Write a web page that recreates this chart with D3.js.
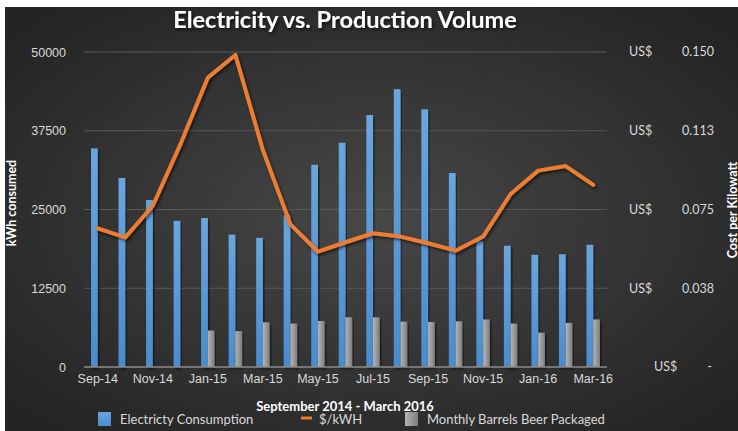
<!DOCTYPE html>
<html>
<head>
<meta charset="utf-8">
<script src="https://cdn.jsdelivr.net/npm/d3@7"></script>
<style>
    html, body { margin: 0; padding: 0; background: #ffffff; }
    svg { display: block; font-family: Lato, "Open Sans", sans-serif; }
</style>
</head>
<body>
<div id="chart"></div>
<script>
const months = ["Sep-14", "Oct-14", "Nov-14", "Dec-14", "Jan-15", "Feb-15", "Mar-15", "Apr-15",
    "May-15", "Jun-15", "Jul-15", "Aug-15", "Sep-15", "Oct-15", "Nov-15", "Dec-15",
    "Jan-16", "Feb-16", "Mar-16"];
const kwhConsumed = [34700, 30000, 26500, 23200, 23650, 21000, 20500, 24100, 32100, 35600,
    40000, 44100, 40900, 30800, 20000, 19250, 17800, 17900, 19400];
const barrelsPackaged = [0, 0, 0, 0, 5800, 5700, 7100, 6900, 7300, 7900,
    7900, 7200, 7150, 7250, 7550, 6900, 5450, 7000, 7550];
const costPerKwh = [0.0660, 0.0617, 0.0768, 0.1060, 0.1378, 0.1486, 0.1033, 0.0679, 0.0549, 0.0594,
    0.0637, 0.0621, 0.0589, 0.0554, 0.0621, 0.0824, 0.0935, 0.0957, 0.0867];
const leftTicks = [0, 12500, 25000, 37500, 50000];
const rightTicks = [0, 0.0375, 0.075, 0.1125, 0.15];
const rightTickLabels = ["-", "0.038", "0.075", "0.113", "0.150"];
const legendItems = [
    { key: "kwh", label: "Electricty Consumption" },
    { key: "cost", label: "$/kWH" },
    { key: "barrels", label: "Monthly Barrels Beer Packaged" }
];

const width = 738, height = 431;
const plot = { left: 84, right: 607, top: 52, bottom: 367 };

const svg = d3.select("#chart").append("svg")
    .attr("width", width)
    .attr("height", height);

const defs = svg.append("defs");

const bg = defs.append("radialGradient")
    .attr("id", "bg")
    .attr("cx", "50%").attr("cy", "50%").attr("r", "65%");
bg.append("stop").attr("offset", "0%").attr("stop-color", "#474747");
bg.append("stop").attr("offset", "100%").attr("stop-color", "#242424");

const blueGrad = defs.append("linearGradient")
    .attr("id", "blueGrad").attr("x1", 0).attr("y1", 0).attr("x2", 0).attr("y2", 1);
blueGrad.append("stop").attr("offset", "0%").attr("stop-color", "#6aa5de");
blueGrad.append("stop").attr("offset", "100%").attr("stop-color", "#4a8ccd");

const grayGrad = defs.append("linearGradient")
    .attr("id", "grayGrad").attr("x1", 0).attr("y1", 0).attr("x2", 1).attr("y2", 0);
grayGrad.append("stop").attr("offset", "0%").attr("stop-color", "#b5b5b5");
grayGrad.append("stop").attr("offset", "100%").attr("stop-color", "#7d7d7d");

const shadow = defs.append("filter").attr("id", "shadow")
    .attr("x", "-20%").attr("y", "-20%").attr("width", "140%").attr("height", "140%");
shadow.append("feDropShadow")
    .attr("dx", 1.5).attr("dy", 2).attr("stdDeviation", 1.5)
    .attr("flood-color", "#000").attr("flood-opacity", 0.6);

svg.append("rect")
    .attr("x", 5).attr("y", 7)
    .attr("width", width - 5).attr("height", height - 7)
    .attr("fill", "url(#bg)");

// scales
const x = d3.scaleBand()
    .domain(months)
    .range([plot.left, plot.right])
    .padding(0);

const x1 = d3.scaleBand()
    .domain(["kwh", "barrels"])
    .range([0, x.bandwidth()])
    .paddingInner(0)
    .paddingOuter(1.04);

const yLeft = d3.scaleLinear().domain([0, 50000]).range([plot.bottom, plot.top]);
const yRight = d3.scaleLinear().domain([0, 0.15]).range([plot.bottom, plot.top]);

// gridlines
svg.append("g")
    .selectAll("line")
    .data(leftTicks.slice(1))
    .enter()
    .append("line")
    .attr("x1", plot.left).attr("x2", plot.right)
    .attr("y1", d => yLeft(d)).attr("y2", d => yLeft(d))
    .style("stroke", "#595959")
    .style("stroke-width", "1px");

// bars
const groups = svg.append("g")
    .selectAll("g")
    .data(months)
    .enter()
    .append("g")
    .attr("transform", d => `translate(${x(d)},0)`);

groups.append("rect")
    .attr("x", x1("kwh"))
    .attr("width", x1.bandwidth())
    .attr("y", (d, i) => yLeft(kwhConsumed[i]))
    .attr("height", (d, i) => plot.bottom - yLeft(kwhConsumed[i]))
    .attr("fill", "url(#blueGrad)")
    .attr("filter", "url(#shadow)");

groups.filter((d, i) => barrelsPackaged[i] > 0)
    .append("rect")
    .attr("x", x1("barrels"))
    .attr("width", x1.bandwidth())
    .attr("y", d => yLeft(barrelsPackaged[months.indexOf(d)]))
    .attr("height", d => plot.bottom - yLeft(barrelsPackaged[months.indexOf(d)]))
    .attr("fill", "url(#grayGrad)")
    .attr("filter", "url(#shadow)");

// baseline
svg.append("line")
    .attr("x1", plot.left).attr("x2", plot.right)
    .attr("y1", plot.bottom).attr("y2", plot.bottom)
    .style("stroke", "#8c8c8c")
    .style("stroke-width", "1.5px");

// cost line
const line = d3.line()
    .x((d, i) => x(months[i]) + x.bandwidth() / 2)
    .y(d => yRight(d));

svg.append("path")
    .datum(costPerKwh)
    .attr("d", line)
    .style("fill", "none")
    .style("stroke", "#ed7d31")
    .style("stroke-width", "4px")
    .style("stroke-linejoin", "round")
    .style("stroke-linecap", "round")
    .attr("filter", "url(#shadow)");

// axes
const xAxis = svg.append("g")
    .attr("transform", `translate(0,${plot.bottom})`)
    .call(d3.axisBottom(x)
        .tickValues(months.filter((d, i) => i % 2 === 0))
        .tickSize(0)
        .tickPadding(7));
xAxis.select(".domain").remove();
xAxis.selectAll("text")
    .style("font-size", "12.5px")
    .style("fill", "#d9d9d9");

const yAxis = svg.append("g")
    .attr("transform", `translate(${plot.left},0)`)
    .call(d3.axisLeft(yLeft)
        .tickValues(leftTicks)
        .tickFormat(d3.format("d"))
        .tickSize(0)
        .tickPadding(18));
yAxis.select(".domain").remove();
yAxis.selectAll("text")
    .style("font-size", "12.5px")
    .style("fill", "#d9d9d9");

const rightAxis = svg.append("g")
    .selectAll("g")
    .data(rightTicks)
    .enter()
    .append("g")
    .attr("transform", d => `translate(0,${yRight(d)})`);

rightAxis.append("text")
    .attr("x", (d, i) => i === 0 ? 654 : 629)
    .attr("dy", "0.35em")
    .style("font-size", "12.5px")
    .style("fill", "#d9d9d9")
    .text("US$");

rightAxis.append("text")
    .attr("x", (d, i) => i === 0 ? 712 : 714)
    .attr("dy", "0.35em")
    .style("text-anchor", "end")
    .style("font-size", "12.5px")
    .style("fill", "#d9d9d9")
    .text((d, i) => rightTickLabels[i]);

// titles
svg.append("text")
    .attr("x", 345)
    .attr("y", 28)
    .style("text-anchor", "middle")
    .style("font-size", "23.5px")
    .style("font-weight", "bold")
    .style("fill", "#ffffff")
    .attr("filter", "url(#shadow)")
    .text("Electricity vs. Production Volume");

svg.append("text")
    .attr("transform", "translate(16,203) rotate(-90)")
    .style("text-anchor", "middle")
    .style("font-size", "12.5px")
    .style("font-weight", "bold")
    .style("fill", "#ffffff")
    .text("kWh consumed");

svg.append("text")
    .attr("transform", "translate(737,210) rotate(-90)")
    .style("text-anchor", "middle")
    .style("font-size", "12.5px")
    .style("font-weight", "bold")
    .style("fill", "#ffffff")
    .text("Cost per Kilowatt");

svg.append("text")
    .attr("x", 345)
    .attr("y", 411)
    .style("text-anchor", "middle")
    .style("font-size", "13px")
    .style("font-weight", "bold")
    .style("fill", "#ffffff")
    .text("September 2014 - March 2016");

// legend
const legendX = [98, 301, 405];
const legend = svg.append("g")
    .selectAll("g")
    .data(legendItems)
    .enter()
    .append("g")
    .attr("transform", (d, i) => `translate(${legendX[i]},419)`);

legend.filter(d => d.key !== "cost")
    .append("rect")
    .attr("x", 0).attr("y", -7)
    .attr("width", 13).attr("height", 14)
    .attr("fill", d => d.key === "kwh" ? "url(#blueGrad)" : "url(#grayGrad)");

legend.filter(d => d.key === "cost")
    .append("line")
    .attr("x1", 0).attr("x2", 11)
    .attr("y1", -1).attr("y2", -1)
    .style("stroke", "#ed7d31")
    .style("stroke-width", "3px");

legend.append("text")
    .attr("x", d => d.key === "cost" ? 18 : 22)
    .attr("y", 5)
    .style("font-size", "13px")
    .style("fill", "#d9d9d9")
    .text(d => d.label);
</script>
</body>
</html>
